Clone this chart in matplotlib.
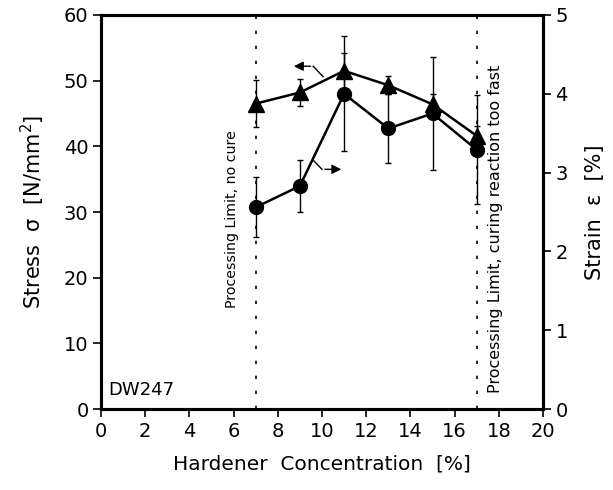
import matplotlib
matplotlib.use("Agg")
import matplotlib.pyplot as plt

# Hardener concentration [%]
conc = [7, 9, 11, 13, 15, 17]
# Stress [N/mm^2] with error
stress = [46.5, 48.2, 51.5, 49.3, 46.4, 41.6]
stress_err = [3.6, 2.0, 2.7, 1.4, 1.5, 1.5]
# Strain [%] with error
strain = [2.56, 2.83, 4.00, 3.56, 3.75, 3.29]
strain_err = [0.38, 0.33, 0.73, 0.44, 0.72, 0.69]

limits = [7, 17]
limit_texts = ["Processing Limit, no cure",
               "Processing Limit, curing reaction too fast"]

plt.rcParams["font.family"] = ["DejaVu Sans"]

fig = plt.figure(figsize=(6.13, 4.90), dpi=100)
ax = fig.add_axes([101 / 613, 81 / 490, 442 / 613, 394 / 490])
ax2 = ax.twinx()

ax.set_xlim(0, 20)
ax.set_ylim(0, 60)
ax2.set_ylim(0, 5)

for a in (ax, ax2):
    for s in a.spines.values():
        s.set_linewidth(2.2)

ax.set_xticks(range(0, 21, 2))
ax.set_yticks(range(0, 61, 10))
ax2.set_yticks(range(0, 6))
ax.tick_params(direction="out", length=6, width=1.2, labelsize=14, pad=3)
ax2.tick_params(direction="out", length=6, width=1.2, labelsize=14, pad=3)

# processing limits
for xl in limits:
    ax.axvline(xl, color="black", linestyle=(0, (2, 7)), linewidth=1.2)
ax.text(5.93, 29.0, limit_texts[0], rotation=90, ha="center", va="center", fontsize=10.2)
ax.text(17.83, 27.4, limit_texts[1], rotation=90, ha="center", va="center", fontsize=11.5)

# stress (left axis)
ax.errorbar(conc, stress, yerr=stress_err, color="black", marker="^",
            markersize=11, linewidth=1.8, elinewidth=1, capsize=2.5, capthick=1)
# strain (right axis)
ax2.errorbar(conc, strain, yerr=strain_err, color="black", marker="o",
             markersize=10, linewidth=1.8, elinewidth=1, capsize=2.5, capthick=1)

# arrows indicating the axis of each curve
ax.annotate("", xy=(8.6, 52.2), xytext=(9.6, 52.2),
            arrowprops=dict(arrowstyle="-|>", color="black", lw=1, mutation_scale=14))
ax.plot([9.6, 10.05], [52.2, 50.6], color="black", lw=1)
ax.annotate("", xy=(11.0, 36.5), xytext=(10.0, 36.5),
            arrowprops=dict(arrowstyle="-|>", color="black", lw=1, mutation_scale=14))
ax.plot([9.6, 10.0], [37.9, 36.5], color="black", lw=1)

ax.text(0.32, 2.9, "DW247", fontsize=13, va="center")

ax.set_xlabel("Hardener  Concentration  [%]", fontsize=14.5, labelpad=10)
ax.set_ylabel("Stress  σ  [N/mm$^2$]", fontsize=15, labelpad=12)
ax2.set_ylabel("Strain  ε  [%]", fontsize=15, labelpad=12)

fig.savefig("out.png", dpi=100)
